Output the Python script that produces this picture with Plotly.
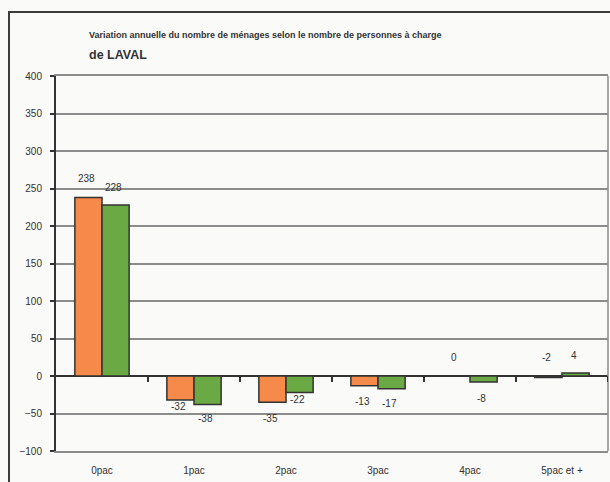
import plotly.graph_objects as go

# Households: annual change by number of dependants (Laval)
categories = ["0pac", "1pac", "2pac", "3pac", "4pac", "5pac et +"]
serie_a = [238, -32, -35, -13, 0, -2]   # orange series
serie_b = [228, -38, -22, -17, -8, 4]   # green series

# vertical offsets (px) of the value labels relative to each bar end
label_dy_a = [19, -6, -16, -16, 19, 20]
label_dy_b = [18, -14, -7, -15, -16, 18]

W, H = 610, 482
ML, MR, MT, MB = 56, 2, 76, 31
FONT = "Liberation Sans Narrow, Arial Narrow, Liberation Sans, Arial, sans-serif"
DARK = "#333333"
GRID = "#8c8c8c"
ORANGE = "#f68a4b"
GREEN = "#6aa944"
BARGAP = 0.41

xs = list(range(len(categories)))
half = (1 - BARGAP) / 4  # centre offset of each bar within its group

fig = go.Figure()
fig.add_trace(go.Bar(x=xs, y=serie_a, marker=dict(color=ORANGE, line=dict(color=DARK, width=1.5)),
                     hoverinfo="skip"))
fig.add_trace(go.Bar(x=xs, y=serie_b, marker=dict(color=GREEN, line=dict(color=DARK, width=1.5)),
                     hoverinfo="skip"))

annotations = []
for vals, dys, off in ((serie_a, label_dy_a, -half), (serie_b, label_dy_b, half)):
    for i, (v, dy) in enumerate(zip(vals, dys)):
        annotations.append(dict(x=i + off, y=v, xref="x", yref="y", text=str(v), showarrow=False,
                                yshift=dy, xshift=-2, font=dict(family=FONT, size=10, color=DARK)))

pw = W - ML - MR
ph = H - MT - MB

# title lines
annotations.append(dict(x=(87 - ML) / pw, y=1 + (MT - 35) / ph, xref="paper", yref="paper",
                        xanchor="left", yanchor="middle", showarrow=False,
                        text="<b>Variation annuelle du nombre de ménages selon le nombre de personnes à charge</b>",
                        font=dict(family=FONT, size=9, color=DARK)))
annotations.append(dict(x=(87 - ML) / pw, y=1 + (MT - 55) / ph, xref="paper", yref="paper",
                        xanchor="left", yanchor="middle", showarrow=False, text="<b>de LAVAL</b>",
                        font=dict(family=FONT, size=12.5, color=DARK)))

shapes = []
# outer chart frame
shapes.append(dict(type="rect", xref="paper", yref="paper",
                   x0=(9 - ML) / pw, x1=1.2, y0=-0.3, y1=1 + (MT - 12) / ph,
                   line=dict(color="#3c3c3c", width=2), layer="above"))
# right border of the plot area
shapes.append(dict(type="line", xref="paper", yref="paper", x0=1, x1=1, y0=0, y1=1,
                   line=dict(color=GRID, width=1.5)))
# category separators on the zero line
for i in range(len(categories)):
    shapes.append(dict(type="line", xref="x", yref="y", x0=i + 0.5, x1=i + 0.5, y0=0, y1=-8,
                       line=dict(color=DARK, width=2)))

fig.update_layout(
    width=W, height=H,
    margin=dict(l=ML, r=MR, t=MT, b=MB),
    paper_bgcolor="#fafaf9", plot_bgcolor="#fafaf9",
    barmode="group", bargap=BARGAP, bargroupgap=0,
    showlegend=False,
    annotations=annotations, shapes=shapes,
    xaxis=dict(range=[-0.5, len(categories) - 0.5], tickvals=xs, ticktext=categories,
               showgrid=False, zeroline=False, showline=True, linecolor=GRID, linewidth=1.5,
               mirror=True, ticks="", ticklabelstandoff=9,
               tickfont=dict(family=FONT, size=10, color=DARK)),
    yaxis=dict(range=[-100, 400], dtick=50, showgrid=True, gridcolor=GRID, gridwidth=1.5,
               zeroline=True, zerolinecolor=DARK, zerolinewidth=2,
               showline=True, linecolor=DARK, linewidth=2,
               ticks="outside", ticklen=4, tickcolor=DARK, tickwidth=1.5, ticklabelstandoff=6,
               tickfont=dict(family=FONT, size=10, color=DARK)),
)

fig.write_html("out.html")
